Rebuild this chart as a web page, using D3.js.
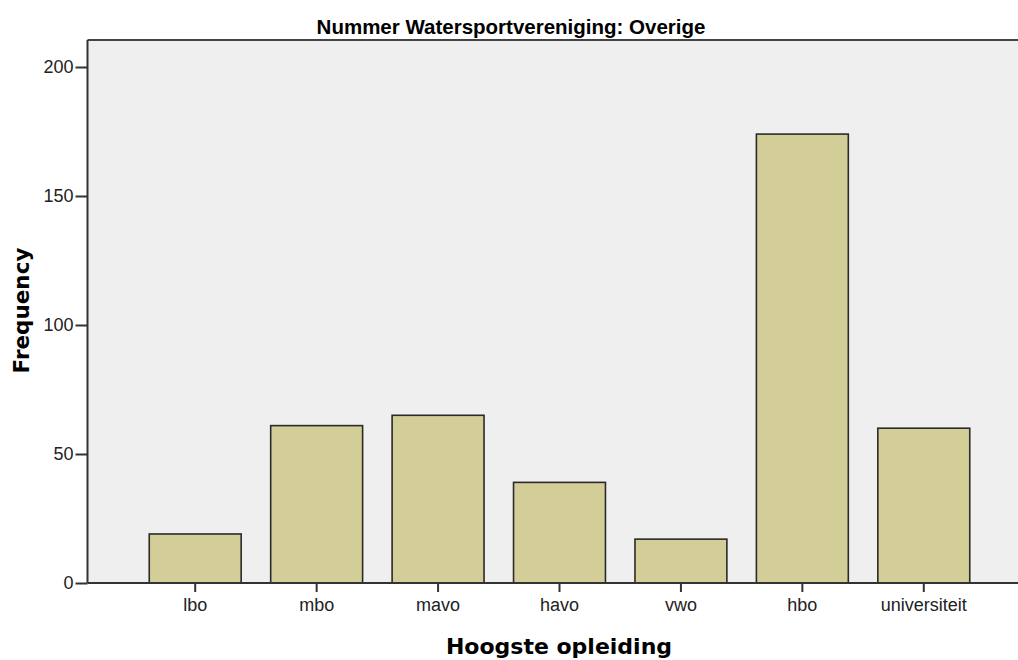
<!DOCTYPE html>
<html><head><meta charset="utf-8">
<script src="https://cdn.jsdelivr.net/npm/d3@7"></script>
<style>body{margin:0;background:#fff}svg{display:block}</style>
</head><body>
<script>
const categories = ["lbo","mbo","mavo","havo","vwo","hbo","universiteit"];
const frequencies = [19, 61, 65, 39, 17, 174, 60];
const yTicks = [0, 50, 100, 150, 200];
const title = "Nummer Watersportvereniging: Overige";
const xTitle = "Hoogste opleiding";
const yTitle = "Frequency";

const W = 1018, H = 660;
const plot = {left: 87.5, top: 40, right: 1020, bottom: 583};
const svg = d3.select("body").append("svg").attr("width", W).attr("height", H);

svg.append("rect").attr("x", plot.left).attr("y", plot.top)
  .attr("width", plot.right - plot.left).attr("height", plot.bottom - plot.top)
  .attr("fill", "#efefef");

const x = d3.scaleBand().domain(categories).range([134.5, 984.5])
  .paddingInner(0.243).paddingOuter(0.1215);
const y = d3.scaleLinear().domain([0, 200]).range([plot.bottom, 67]);

svg.selectAll("rect.bar").data(categories).join("rect").attr("class","bar")
  .attr("x", d => x(d)).attr("width", x.bandwidth())
  .attr("y", (d,i) => y(frequencies[i]))
  .attr("height", (d,i) => y(0) - y(frequencies[i]))
  .attr("fill", "#d3ce97").attr("stroke", "#2a2a2a").attr("stroke-width", 1.6);

// top border
svg.append("line").attr("x1", plot.left).attr("x2", plot.right)
  .attr("y1", plot.top).attr("y2", plot.top).attr("stroke", "#444").attr("stroke-width", 2);

const tickFont = "Liberation Sans, Arial, sans-serif";
const yAxis = svg.append("g").attr("transform", `translate(${plot.left},0)`)
  .call(d3.axisLeft(y).tickValues(yTicks).tickSize(12).tickSizeOuter(0).tickPadding(2));
yAxis.select(".domain").attr("d", `M0,${plot.top}V${plot.bottom}`).attr("stroke", "#333").attr("stroke-width", 2);
yAxis.selectAll(".tick line").attr("stroke", "#333").attr("stroke-width", 2);
yAxis.selectAll("text").attr("font-family", tickFont)
  .attr("font-size", 18).attr("fill", "#222");

const xAxis = svg.append("g").attr("transform", `translate(0,${plot.bottom})`)
  .call(d3.axisBottom(x).tickSize(9).tickSizeOuter(0).tickPadding(6));
xAxis.select(".domain").attr("d", `M${plot.left},0H${plot.right}`).attr("stroke", "#333").attr("stroke-width", 2);
xAxis.selectAll(".tick line").attr("stroke", "#333").attr("stroke-width", 2);
xAxis.selectAll("text").attr("font-family", tickFont)
  .attr("font-size", 18).attr("fill", "#222");

svg.append("text").attr("x", 511).attr("y", 34).attr("text-anchor", "middle")
  .attr("font-family", "Liberation Sans, Arial, sans-serif").attr("font-weight", "bold")
  .attr("font-size", 20.5).attr("fill", "#000").text(title);

svg.append("text").attr("x", 559).attr("y", 654).attr("text-anchor", "middle")
  .attr("font-family", "DejaVu Sans, sans-serif").attr("font-weight", "bold")
  .attr("font-size", 22).attr("fill", "#000").text(xTitle);

svg.append("text").attr("transform", `translate(29,310.5) rotate(-90)`).attr("text-anchor", "middle")
  .attr("font-family", "DejaVu Sans, sans-serif").attr("font-weight", "bold")
  .attr("font-size", 21.5).attr("fill", "#000").text(yTitle);
</script>
</body></html>
